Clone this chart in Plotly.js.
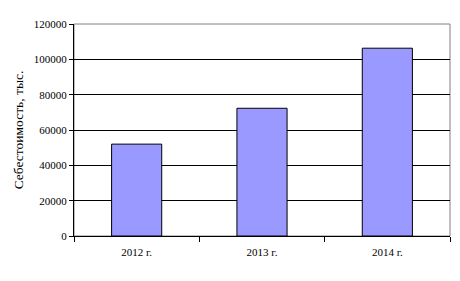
<!DOCTYPE html>
<html><head><meta charset="utf-8">
<script src="https://cdn.plot.ly/plotly-3.0.1.min.js"></script>
<style>html,body{margin:0;padding:0;background:#fff}</style>
</head><body>
<div id="chart" style="width:460px;height:281px"></div>
<script>
const categories = ["2012 г.", "2013 г.", "2014 г."];
const values = [52000, 72300, 106300];
const yTicks = [0, 20000, 40000, 60000, 80000, 100000, 120000];

const font = {family: "Liberation Serif, Times New Roman, serif", size: 11, color: "#000"};
Plotly.newPlot("chart", [{
  type: "bar", x: categories, y: values,
  marker: {color: "#9999ff", line: {color: "#000", width: 1}},
  width: 0.4, hoverinfo: "none"
}], {
  width: 460, height: 281,
  margin: {l: 74, r: 10, t: 24, b: 45, pad: 0},
  paper_bgcolor: "#fff", plot_bgcolor: "#fff",
  font: font, showlegend: false, bargap: 0.6,
  xaxis: {showline: true, linecolor: "#000", linewidth: 1, ticks: "outside", ticklen: 5,
    tickcolor: "#000", tickson: "boundaries", showgrid: false, tickfont: font, ticklabelstandoff: 6},
  yaxis: {range: [0, 120000], tickvals: yTicks, ticktext: yTicks.map(String), showline: true,
    linecolor: "#000", linewidth: 1, ticks: "outside", ticklen: 4, tickcolor: "#000",
    showgrid: true, gridcolor: "#000", gridwidth: 1, zeroline: false, tickfont: font,
    title: {text: "Себестоимость, тыс.", font: {family: font.family, size: 13.5, color: "#000"}, standoff: 7}},
  shapes: [{type: "rect", xref: "paper", yref: "paper", x0: 0, x1: 1, y0: 0, y1: 1,
    line: {color: "#808080", width: 1}, layer: "below"}]
}, {staticPlot: true});
</script>
</body></html>
